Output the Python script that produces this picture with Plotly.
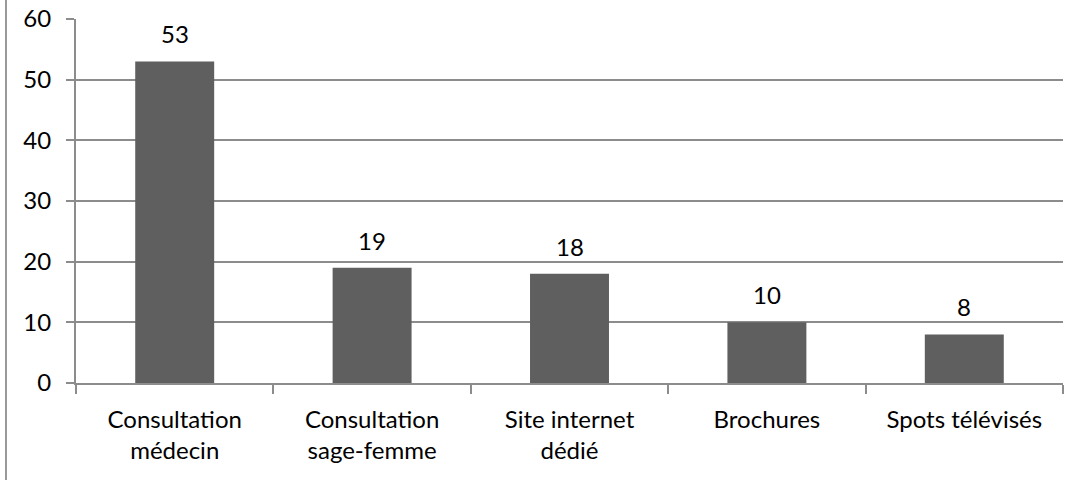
import plotly.graph_objects as go

categories = ["Consultation<br>médecin", "Consultation<br>sage-femme", "Site internet<br>dédié", "Brochures", "Spots télévisés"]
values = [53, 19, 18, 10, 8]
y_ticks = [0, 10, 20, 30, 40, 50, 60]

FONT = "Lato, Calibri, sans-serif"
GRID = "#8c8c8c"
FS = 24

fig = go.Figure()
fig.add_trace(go.Bar(
    x=categories, y=values,
    marker=dict(color="#5f5f5f", line=dict(width=0)),
    width=0.4,
))

for c, v in zip(categories, values):
    fig.add_annotation(x=c, y=v, text=str(v), showarrow=False,
                       yanchor="bottom", yshift=11,
                       font=dict(family=FONT, size=FS, color="black"))

fig.update_layout(
    width=1081, height=480,
    margin=dict(l=76, r=18, t=19, b=97, autoexpand=False),
    paper_bgcolor="white", plot_bgcolor="white",
    showlegend=False,
    font=dict(family=FONT, size=FS, color="black"),
    bargap=0.6,
    shapes=[dict(type="line", xref="paper", yref="paper",
                 x0=-70/987, x1=-70/987, y0=1.2, y1=-0.4,
                 line=dict(color="#999999", width=2))],
)
fig.update_xaxes(
    type="category", automargin=False,
    showline=True, linecolor=GRID, linewidth=2,
    ticks="outside", tickson="boundaries", ticklen=9, tickcolor=GRID, tickwidth=2,
    ticklabelstandoff=14,
    showgrid=False,
    tickfont=dict(family=FONT, size=FS, color="black"),
)
fig.update_yaxes(
    range=[0, 60], tickvals=y_ticks, automargin=False,
    showline=True, linecolor=GRID, linewidth=2,
    ticks="outside", ticklen=8, tickcolor=GRID, tickwidth=2,
    ticklabelstandoff=10,
    showgrid=True, gridcolor=GRID, gridwidth=2,
    zeroline=False,
    tickfont=dict(family=FONT, size=FS, color="black"),
)

fig.write_html("out.html", config={"displayModeBar": False},
               post_script="document.body.style.margin='0';")
